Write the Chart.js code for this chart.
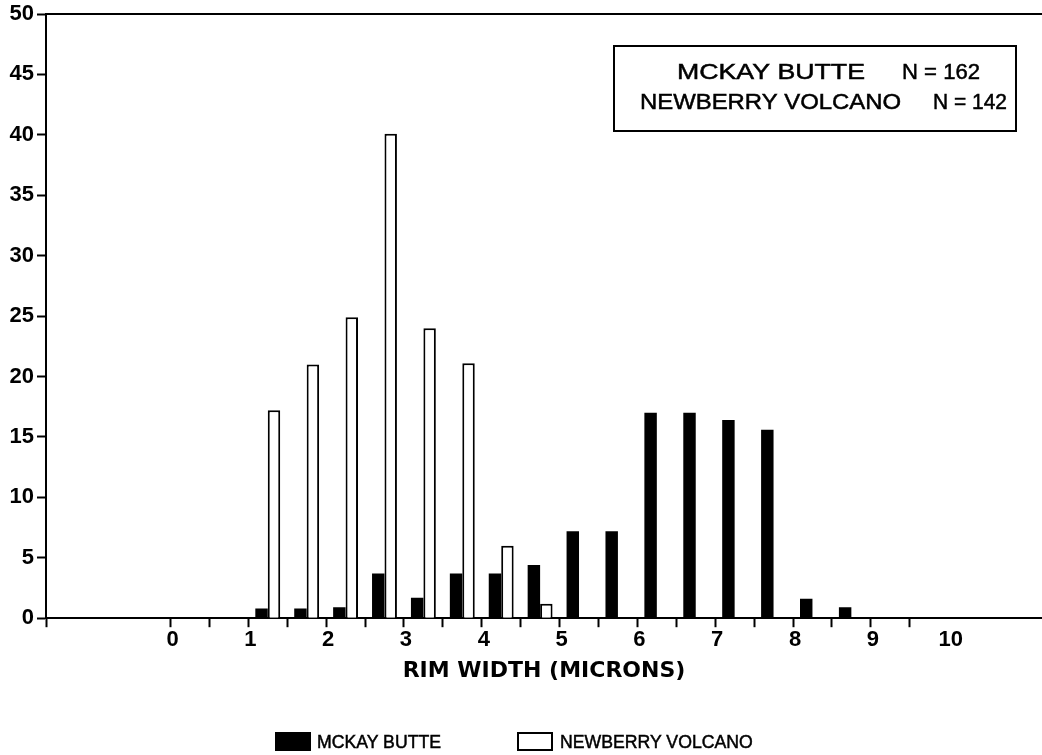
<!DOCTYPE html>
<html>
<head>
<meta charset="utf-8">
<script src="https://cdn.jsdelivr.net/npm/chart.js@4.4.1/dist/chart.umd.min.js"></script>
<style>
  html, body { margin: 0; padding: 0; background: #fff; }
  #wrap { position: relative; width: 1042px; height: 755px; }
  #legend { position: absolute; left: 0; top: 732px; width: 1042px; height: 22px;
            font-family: 'Liberation Sans', Arial, sans-serif;
            font-size: 19px; color: #000; }
  .swatch { position: absolute; top: 0; display: inline-block; width: 36px; height: 19px;
            box-sizing: border-box; border: 2px solid #000; }
  .label { position: absolute; top: -1px; line-height: 22px; white-space: nowrap;
           transform: scaleX(0.93); transform-origin: 0 50%;
           -webkit-text-stroke: 0.5px #000; }
</style>
</head>
<body>
<div id="wrap">
  <canvas id="chart" width="1042" height="755"></canvas>
  <div id="legend"></div>
</div>
<script>
// Rim width bins (microns), centred in each 0.5-micron interval
const binCenters = [1.25, 1.75, 2.25, 2.75, 3.25, 3.75, 4.25, 4.75,
                    5.25, 5.75, 6.25, 6.75, 7.25, 7.75, 8.25, 8.75];

// Frequency per bin
const mckayButte      = [0.8, 0.8, 0.9, 3.7, 1.7, 3.7, 3.7, 4.4,
                         7.2, 7.2, 17.0, 17.0, 16.4, 15.6, 1.6, 0.9];
const newberryVolcano = [17.2, 21.0, 24.9, 40.1, 24.0, 21.1, 6.0, 1.2,
                         null, null, null, null, null, null, null, null];

const seriesNames = ['MCKAY BUTTE', 'NEWBERRY VOLCANO'];
const sampleSizes = [162, 142];

// Axis ticks
const xTickValues = [0, 0.5, 1, 1.5, 2, 2.5, 3, 3.5, 4, 4.5, 5, 5.5,
                     6, 6.5, 7, 7.5, 8, 8.5, 9, 9.5, 10];
const xTickLabels = ['0', '1', '2', '3', '4', '5', '6', '7', '8', '9', '10'];
const yTicks = { min: 0, max: 50, step: 5 };
const xRange = { min: -1.6, max: 11.2 };

const tickFont = { family: "'Liberation Sans', Arial, sans-serif", size: 22, weight: 'bold' };
const yTickFont = { family: "'Liberation Sans', Arial, sans-serif", size: 22, weight: 'bold', lineHeight: 1 };

const toPoints = (values) => binCenters.map((x, i) => ({ x: x, y: values[i] }));

// Boxed note with sample sizes, drawn in the upper right of the plot
const sampleSizeBox = {
  id: 'sampleSizeBox',
  afterDraw(chart) {
    const { ctx, chartArea } = chart;
    const left = chartArea.right - 428, top = chartArea.top + 32, w = 402, h = 85;
    ctx.save();
    ctx.lineWidth = 2;
    ctx.strokeStyle = '#000';
    ctx.strokeRect(left, top, w, h);
    ctx.fillStyle = '#000';
    ctx.font = "22px 'Liberation Sans', Arial, sans-serif";
    ctx.textBaseline = 'alphabetic';
    ctx.textAlign = 'left';
    ctx.lineWidth = 0.5;
    const put = (txt, x, y, width) => {
      const m = ctx.measureText(txt).width;
      ctx.save();
      ctx.translate(x, y);
      ctx.scale(width / m, 1);
      ctx.fillText(txt, 0, 0);
      ctx.strokeText(txt, 0, 0);
      ctx.restore();
    };
    put(seriesNames[0], left + 63, top + 33, 188);
    put('N = ' + sampleSizes[0], left + 288, top + 33, 78);
    put(seriesNames[1], left + 26, top + 63, 261);
    put('N = ' + sampleSizes[1], left + 319, top + 63, 74);
    ctx.restore();
  }
};

const chart = new Chart(document.getElementById('chart'), {
  type: 'bar',
  data: {
    datasets: [
      {
        label: seriesNames[0],
        data: toPoints(mckayButte),
        backgroundColor: '#000',
        borderColor: '#000',
        borderWidth: 0
      },
      {
        label: seriesNames[1],
        data: toPoints(newberryVolcano),
        backgroundColor: '#fff',
        borderColor: '#000',
        borderWidth: 2
      }
    ]
  },
  options: {
    responsive: false,
    animation: false,
    devicePixelRatio: 1,
    categoryPercentage: 0.64,
    barPercentage: 1.0,
    layout: { padding: { top: 12, right: 0, bottom: 70, left: 0 } },
    plugins: {
      legend: { display: false },
      tooltip: { enabled: false }
    },
    scales: {
      x: {
        type: 'linear',
        position: 'bottom',
        offset: false,
        min: xRange.min,
        max: xRange.max,
        afterBuildTicks: (s) => {
          s.ticks = [s.min].concat(xTickValues).map(v => ({ value: v }));
        },
        ticks: {
          autoSkip: false,
          maxRotation: 0,
          padding: 0,
          labelOffset: 2,
          color: '#000',
          font: tickFont,
          callback: (v) => (Number.isInteger(v) && v >= 0 && v < xTickLabels.length) ? xTickLabels[v] : ''
        },
        grid: {
          offset: false,
          drawOnChartArea: false,
          drawTicks: true,
          tickLength: 9,
          tickWidth: 2,
          color: '#000',
          tickColor: (c) => (c.tick && c.tick.value === 10) ? 'rgba(0,0,0,0)' : '#000'
        },
        border: { display: true, color: '#000', width: 2 },
        title: {
          display: true,
          text: 'RIM WIDTH (MICRONS)',
          color: '#000',
          font: { family: "'DejaVu Sans', sans-serif", size: 22, weight: 'bold' },
          padding: { top: 4, bottom: 1 }
        }
      },
      xTop: {
        type: 'linear',
        position: 'top',
        offset: false,
        min: xRange.min,
        max: xRange.max,
        ticks: { display: false },
        grid: { display: false, drawTicks: false, offset: false },
        border: { display: true, color: '#000', width: 2 }
      },
      y: {
        min: yTicks.min,
        max: yTicks.max,
        afterFit: (s) => { s.width = 46; },
        ticks: { stepSize: yTicks.step, color: '#000', font: yTickFont, padding: 3 },
        grid: { drawOnChartArea: false, tickLength: 9, tickWidth: 2, color: '#000' },
        border: { display: true, color: '#000', width: 2 }
      }
    }
  },
  plugins: [sampleSizeBox]
});

// Legend row below the axis title
const legendPos = [{ box: 275, text: 317 }, { box: 517, text: 560 }];
const legendEl = document.getElementById('legend');
chart.data.datasets.forEach((ds, i) => {
  const sw = document.createElement('span');
  sw.className = 'swatch';
  sw.style.left = legendPos[i].box + 'px';
  sw.style.background = ds.backgroundColor;
  sw.style.borderColor = '#000';
  legendEl.appendChild(sw);
  const tx = document.createElement('span');
  tx.className = 'label';
  tx.style.left = legendPos[i].text + 'px';
  tx.textContent = ds.label;
  legendEl.appendChild(tx);
});
</script>
</body>
</html>
